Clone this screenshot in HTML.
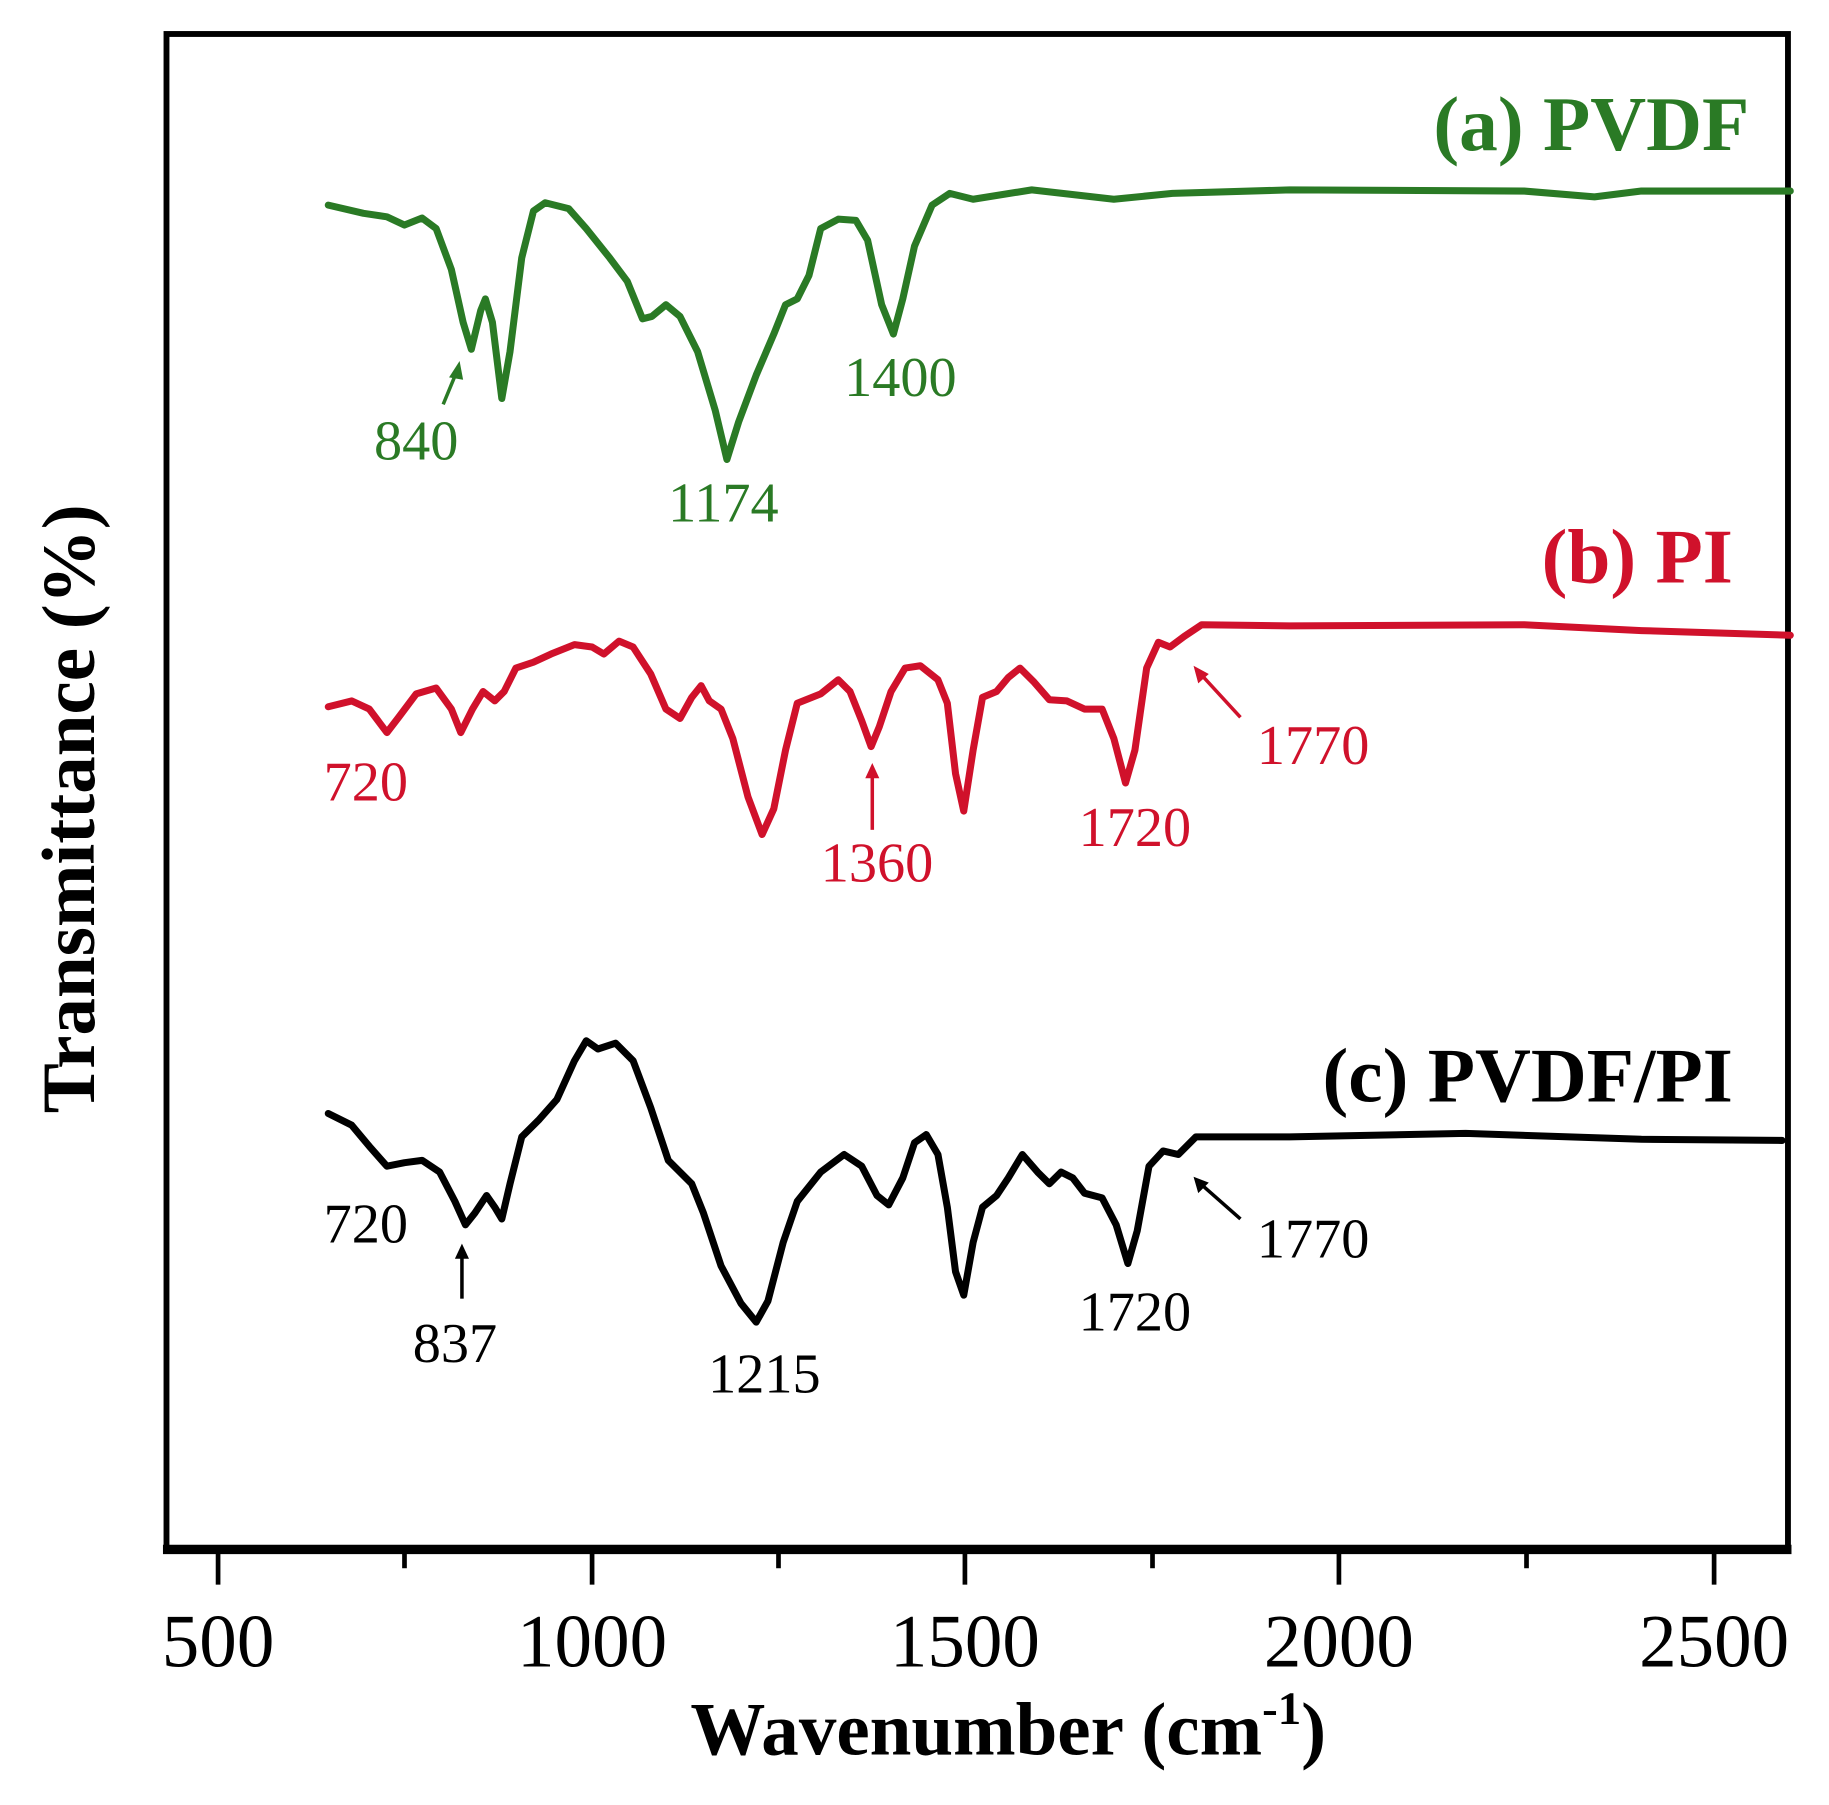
<!DOCTYPE html>
<html><head><meta charset="utf-8"><style>html,body{margin:0;padding:0;background:#fff}svg{display:block}</style></head>
<body>
<svg width="1829" height="1805" viewBox="0 0 1560 1540" preserveAspectRatio="none" xmlns="http://www.w3.org/2000/svg" font-family="'Liberation Serif', serif">
<rect x="0" y="0" width="1560" height="1540" fill="#fff"/>
<rect x="142" y="29" width="1383" height="1293" fill="none" stroke="#000" stroke-width="5"/>
<line x1="139" y1="1322" x2="1528" y2="1322" stroke="#000" stroke-width="8"/>
<g stroke="#000" stroke-width="4">
<line x1="186" y1="1322" x2="186" y2="1352"/><line x1="345" y1="1322" x2="345" y2="1338"/>
<line x1="505" y1="1322" x2="505" y2="1352"/><line x1="664" y1="1322" x2="664" y2="1338"/>
<line x1="823" y1="1322" x2="823" y2="1352"/><line x1="983" y1="1322" x2="983" y2="1338"/>
<line x1="1142" y1="1322" x2="1142" y2="1352"/><line x1="1302" y1="1322" x2="1302" y2="1338"/>
<line x1="1462" y1="1322" x2="1462" y2="1352"/>
</g>
<g font-size="64" text-anchor="middle" fill="#000">
<text x="186" y="1422">500</text><text x="505" y="1422">1000</text><text x="823" y="1422">1500</text><text x="1142" y="1422">2000</text><text x="1462" y="1422">2500</text>
</g>
<text x="860" y="1497" font-size="64" font-weight="bold" text-anchor="middle">Wavenumber (cm<tspan font-size="40" dy="-26">-1</tspan><tspan dy="26">)</tspan></text>
<text transform="translate(80,690) rotate(-90)" font-size="64" font-weight="bold" text-anchor="middle">Transmittance (%)</text>

<g fill="none" stroke-width="6" stroke-linejoin="round" stroke-linecap="round">
<polyline stroke="#2a7a25" points="280,175 310,182 330,185 345,192 360,186 372,195 385,230 395,275 402,298 410,265 414,255 420,275 428,340 435,300 445,220 455,180 465,173 485,178 500,195 520,220 535,240 548,272 556,270 568,260 580,270 595,300 610,350 620,392 630,360 645,320 660,285 670,260 680,255 690,235 700,195 715,187 730,188 740,205 752,260 762,285 770,255 780,210 795,175 810,165 830,170 880,162 950,170 1000,165 1100,162 1300,163 1360,168 1400,163 1527,163"/>
<polyline stroke="#d0112b" points="280,603 300,598 315,605 330,625 340,612 355,592 372,587 385,605 393,625 403,605 412,590 422,598 430,590 440,570 455,565 470,558 490,550 505,552 515,558 528,547 540,552 555,575 568,605 580,613 590,595 598,585 605,598 615,605 625,630 638,680 650,712 660,690 670,640 680,600 700,592 715,580 725,590 735,615 743,637 750,620 760,590 772,570 785,568 800,580 808,600 815,660 822,692 830,640 838,595 850,590 860,578 870,570 882,582 895,597 910,598 925,605 940,605 950,630 960,668 968,640 978,570 988,548 998,552 1010,543 1025,533 1100,534 1300,533 1400,538 1527,542"/>
<polyline stroke="#000" points="280,950 300,960 315,978 330,995 345,992 360,990 375,1000 388,1025 397,1045 405,1035 415,1020 422,1030 428,1040 435,1010 445,970 460,955 475,938 490,905 500,888 510,895 525,890 540,905 555,945 570,990 590,1010 600,1035 615,1080 632,1112 645,1128 655,1110 668,1060 680,1025 700,1000 720,985 735,995 748,1020 758,1028 770,1005 780,975 790,968 800,985 808,1030 815,1085 822,1105 830,1060 838,1030 850,1020 860,1005 872,985 885,1000 895,1010 905,1000 915,1005 925,1018 940,1022 952,1045 962,1078 970,1050 980,995 992,982 1005,985 1020,970 1100,970 1250,967 1400,972 1520,973"/>
</g>

<g font-size="48" text-anchor="middle">
<g fill="#2a7a25"><text x="355" y="392">840</text><text x="617" y="445">1174</text><text x="768" y="338">1400</text></g>
<g fill="#d0112b"><text x="312" y="683">720</text><text x="748" y="752">1360</text><text x="968" y="722">1720</text><text x="1120" y="652">1770</text></g>
<g fill="#000"><text x="312" y="1060">720</text><text x="388" y="1162">837</text><text x="652" y="1188">1215</text><text x="968" y="1135">1720</text><text x="1120" y="1073">1770</text></g>
</g>
<g stroke-width="3" fill="none">
<line x1="378" y1="345" x2="390" y2="316" stroke="#2a7a25"/><polygon points="392,308 383,322 395,324" fill="#2a7a25" stroke="none"/>
<line x1="744" y1="708" x2="744" y2="660" stroke="#d0112b"/><polygon points="744,651 738,664 750,664" fill="#d0112b" stroke="none"/>
<line x1="1058" y1="612" x2="1024" y2="575" stroke="#d0112b"/><polygon points="1018,568 1022,583 1031,575" fill="#d0112b" stroke="none"/>
<line x1="394" y1="1108" x2="394" y2="1070" stroke="#000"/><polygon points="394,1061 388,1074 400,1074" fill="#000" stroke="none"/>
<line x1="1058" y1="1040" x2="1024" y2="1010" stroke="#000"/><polygon points="1018,1004 1022,1018 1031,1009" fill="#000" stroke="none"/>
</g>

<g font-size="66" font-weight="bold" text-anchor="end">
<text x="1492" y="128" fill="#2a7a25">(a) PVDF</text>
<text x="1478" y="497" fill="#d0112b">(b) PI</text>
<text x="1478" y="940" fill="#000">(c) PVDF/PI</text>
</g>
</svg>
</body></html>
